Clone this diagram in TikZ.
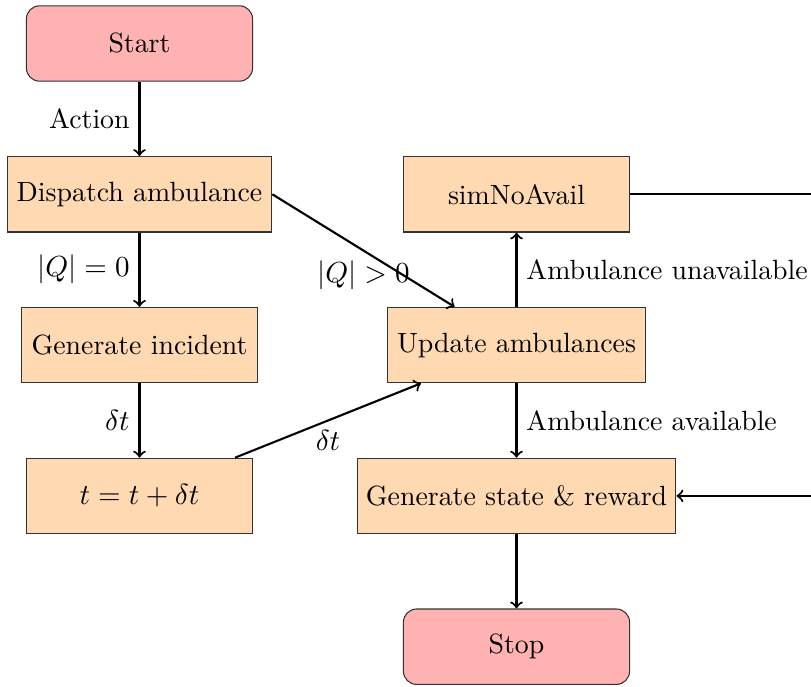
\documentclass[tikz,border=0pt]{standalone}
\usetikzlibrary{positioning}
\tikzset{
  startstop/.style={rectangle, rounded corners=5pt, minimum width=3cm,
    minimum height=1cm, align=center, draw=black!80, fill=red!30},
  process/.style={rectangle, minimum width=3cm, minimum height=1cm,
    align=center, draw=black!80, fill=orange!30},
  flow/.style={thick, ->},
}
\begin{document}
\begin{tikzpicture}[font=\fontsize{10.5}{12.5}\selectfont]
  \path[use as bounding box, clip] (-1.85,0.577) rectangle (8.906,-8.534);

  % left column
  \node[startstop] (start)    at (0,0)  {Start};
  \node[process, minimum width=3.51cm] (dispatch) at (0,-2) {Dispatch ambulance};
  \node[process, minimum width=3.13cm] (incident) at (0,-4) {Generate incident};
  \node[process]   (tstep)    at (0,-6) {$t = t + \delta t$};

  % right column
  \node[process]   (noavail)  at (5,-2) {simNoAvail};
  \node[process, minimum width=3.43cm] (update)   at (5,-4) {Update ambulances};
  \node[process, minimum width=4.22cm] (genstate) at (5,-6) {Generate state \& reward};
  \node[startstop] (stop)     at (5,-8) {Stop};

  \coordinate (loop) at (9.3,-2);

  \draw[flow] (start) -- node[left] {Action} (dispatch);
  \draw[flow] (dispatch) -- node[left] {$|Q| = 0$} (incident);
  \draw[flow] (dispatch.east) -- node[below] {$|Q| > 0$} (update);
  \draw[flow] (incident) -- node[left] {$\delta t$} (tstep);
  \draw[flow] (tstep) -- node[below] {$\delta t$} (update);
  \draw[flow] (update) -- node[right] {Ambulance unavailable} (noavail);
  \draw[flow] (update) -- node[right] {Ambulance available} (genstate);
  \draw[flow] (genstate) -- (stop);
  \draw[flow] (noavail.east) -- (loop) |- (genstate.east);
\end{tikzpicture}
\end{document}
